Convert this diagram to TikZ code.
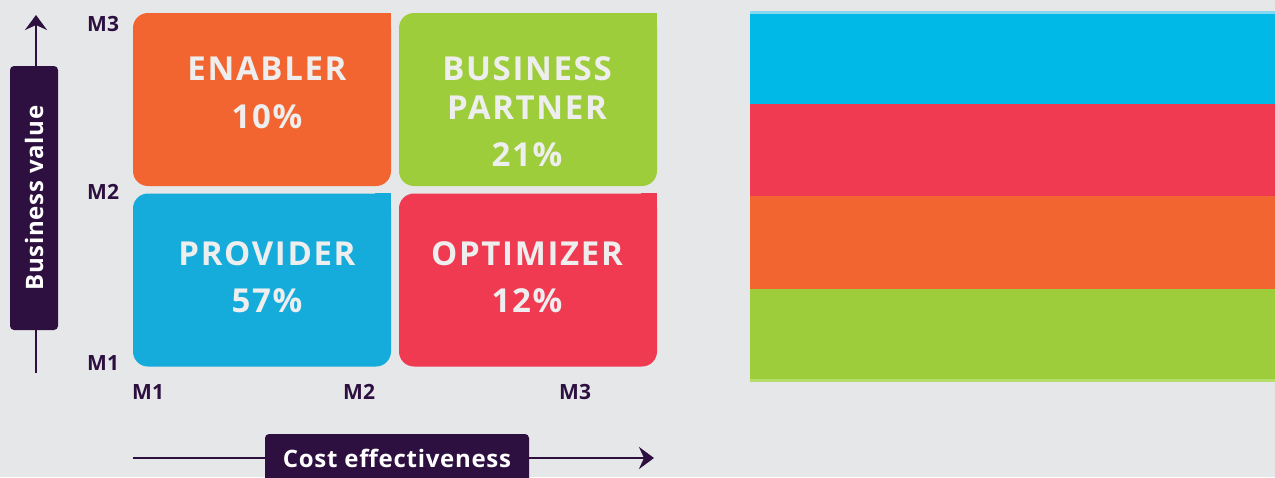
\documentclass[tikz,border=0pt]{standalone}
\usepackage{fontspec}
\setmainfont{Open Sans}
\usetikzlibrary{arrows.meta}
\definecolor{bg}{HTML}{E6E7E9}
\definecolor{dpurple}{HTML}{2D1040}
\definecolor{qorange}{HTML}{F26531}
\definecolor{qgreen}{HTML}{9ECD3C}
\definecolor{qblue}{HTML}{15ABDB}
\definecolor{qred}{HTML}{EF3A52}
\definecolor{scyan}{HTML}{00B9E6}
\definecolor{scyanlt}{HTML}{86D8F2}
\definecolor{sgreenlt}{HTML}{B5DD6A}
\definecolor{txt}{HTML}{EEEEEE}
\begin{document}
\begin{tikzpicture}[x=1pt,y=-1pt,
  quad/.style={rounded corners=15pt, inner sep=0pt, minimum width=258pt, minimum height=173pt},
  qtxt/.style={text=txt, font=\fontsize{33}{33}\selectfont\bfseries\addfontfeature{LetterSpace=5}, anchor=base, inner sep=0pt},
  mlab/.style={text=dpurple, font=\fontsize{21}{21}\selectfont\bfseries, anchor=base west, inner sep=0pt},
  axlab/.style={fill=dpurple, text=white, rounded corners=4pt, inner sep=0pt,
    minimum width=264pt, minimum height=48pt, font=\fontsize{24}{24}\selectfont\bfseries\addfontfeature{LetterSpace=3}},
  axarrow/.style={draw=dpurple, line width=2.5pt, -{Stealth[length=15pt,width=22pt,inset=5pt]}}
]
\useasboundingbox (0,0) rectangle (1275,477);
\fill[bg] (0,0) rectangle (1275,477);

% quadrant boxes
\node[quad, fill=qorange] (enabler) at (262,99.5) {};
\fill[qorange] (enabler.north east) rectangle +(-16,16);
\node[quad, fill=qgreen] (partner) at (528,99.5) {};
\fill[qgreen] (partner.north east) rectangle +(-16,16);
\node[quad, fill=qblue] (provider) at (262,280) {};
\fill[qblue] (provider.north east) rectangle +(-16,16);
\node[quad, fill=qred] (optimizer) at (528,280) {};
\fill[qred] (optimizer.north east) rectangle +(-16,16);

% quadrant texts
\node[qtxt] (t1a) at (267,80) {ENABLER};
\node[qtxt] (t1b) at (267,128) {10\%};
\node[qtxt] (t2a) at (527,80) {BUSINESS};
\node[qtxt] (t2b) at (527,119) {PARTNER};
\node[qtxt] (t2c) at (527,166) {21\%};
\node[qtxt] (t3a) at (267,265) {PROVIDER};
\node[qtxt] (t3b) at (267,312) {57\%};
\node[qtxt] (t4a) at (527,265) {OPTIMIZER};
\node[qtxt] (t4b) at (527,312) {12\%};

% M labels
\node[mlab] (ym3) at (87,31) {M3};
\node[mlab] (ym2) at (87,199) {M2};
\node[mlab] (ym1) at (87,370) {M1};
\node[mlab] (xm1) at (132,399) {M1};
\node[mlab] (xm2) at (343,399) {M2};
\node[mlab] (xm3) at (559,399) {M3};

% axes
\coordinate (vbot) at (36,373);
\coordinate (vtop) at (36,15);
\draw[axarrow] (vbot) -- (vtop);
\node[axlab, rotate=90] (ylab) at (34,198) {Business value};

\coordinate (hleft) at (133,458);
\coordinate (hright) at (654,458);
\draw[axarrow] (hleft) -- (hright);
\node[axlab] (xlab) at (397,458) {Cost effectiveness};

% stripes
\fill[scyanlt] (750,11) rectangle (1275,14);
\fill[scyan] (750,14) rectangle (1275,104);
\fill[qred] (750,104) rectangle (1275,196);
\fill[qorange] (750,196) rectangle (1275,289);
\fill[qgreen] (750,289) rectangle (1275,379);
\fill[sgreenlt] (750,379) rectangle (1275,382);
\end{tikzpicture}
\end{document}
